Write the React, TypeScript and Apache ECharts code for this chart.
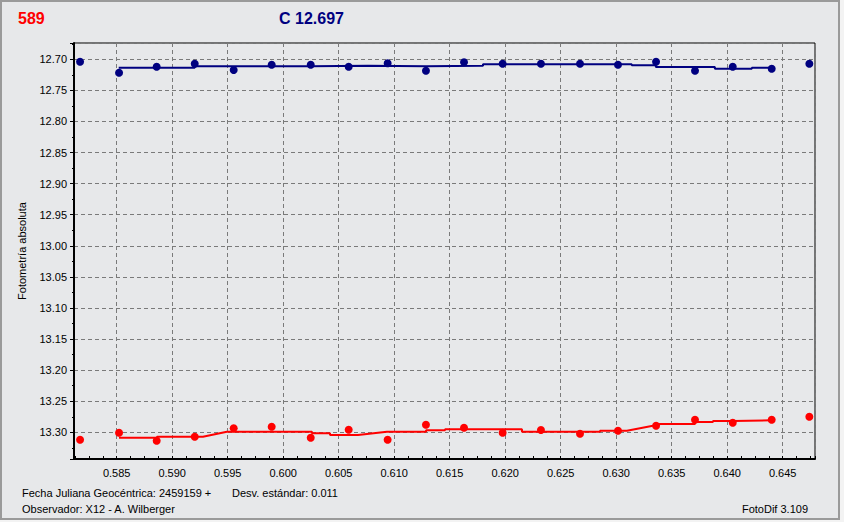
import React, { useEffect, useRef } from "react";
import * as echarts from "echarts";

// Julian date fraction (2459159 +) of each observation
const jd = [0.5817, 0.58521, 0.5886, 0.59203, 0.59554, 0.59896, 0.60248, 0.6059, 0.60941, 0.61286, 0.61629, 0.61977, 0.62322, 0.62674, 0.63016, 0.63359, 0.6371, 0.6405, 0.64401, 0.6474];
// comparison star C (blue)
const compMag = [12.7039, 12.7216, 12.7119, 12.7071, 12.7172, 12.7087, 12.7087, 12.7119, 12.7064, 12.7183, 12.7048, 12.7071, 12.7071, 12.7071, 12.7087, 12.7039, 12.7183, 12.7119, 12.7151, 12.7071];
// variable 589 (red)
const varMag = [13.3119, 13.3006, 13.3135, 13.3071, 13.2936, 13.291, 13.3087, 13.2958, 13.3119, 13.2878, 13.2926, 13.3006, 13.2963, 13.3023, 13.2974, 13.2894, 13.2797, 13.2846, 13.2797, 13.2749];

// smoothed curves
const compFitJd = [0.58518, 0.59203, 0.59203, 0.60248, 0.60248, 0.60764, 0.60764, 0.61287, 0.61287, 0.618, 0.618, 0.6314, 0.6314, 0.63357, 0.63357, 0.63889, 0.63889, 0.64222, 0.64222, 0.64401];
const compFitMag = [12.7135, 12.7135, 12.7113, 12.7113, 12.7103, 12.7103, 12.7113, 12.7113, 12.7103, 12.7103, 12.708, 12.708, 12.7097, 12.7097, 12.7124, 12.7124, 12.7151, 12.7151, 12.7135, 12.7135];
const varFitJd = [0.58521, 0.58863, 0.58863, 0.59277, 0.59493, 0.60259, 0.60259, 0.60422, 0.60422, 0.60674, 0.60935, 0.61287, 0.61287, 0.61458, 0.61458, 0.62151, 0.62151, 0.62854, 0.62854, 0.63097, 0.63331, 0.63394, 0.6371, 0.6371, 0.63872, 0.63872, 0.64052, 0.64052, 0.64403];
const varFitMag = [13.3087, 13.3087, 13.3071, 13.3071, 13.299, 13.299, 13.3016, 13.3016, 13.3043, 13.3043, 13.299, 13.299, 13.2968, 13.2968, 13.2952, 13.2952, 13.299, 13.299, 13.2974, 13.2974, 13.2894, 13.2866, 13.2866, 13.2834, 13.2834, 13.2818, 13.2818, 13.2807, 13.2807];

const xMin = 0.581153;
const xMax = 0.64791;
const yMin = 12.67378;
const yMax = 13.34295;

const titleVar = "589";
const titleComp = "C 12.697";
const yName = "Fotometría absoluta";
const footJd = "Fecha Juliana Geocéntrica: 2459159 +";
const footSd = "Desv. estándar: 0.011";
const footObs = "Observador: X12 - A. Wilberger";
const footSoft = "FotoDif 3.109";

const FONT = "'Liberation Sans', Arial, sans-serif";
const BLUE = "#000080";
const RED = "#ff0000";

const zip = (a: number[], b: number[]) => a.map((v, i) => [v, b[i]]);

export default function App() {
  const ref = useRef<HTMLDivElement>(null);
  useEffect(() => {
    const chart = echarts.init(ref.current!, null, { renderer: "svg" });
    const grid = { color: "#7a7a7a", width: 1, type: [4, 3] as any };
    chart.setOption({
      animation: false,
      backgroundColor: "#e7e8ea",
      grid: { left: 74, top: 43, right: 29, bottom: 63, show: true, borderColor: "#000", borderWidth: 1, backgroundColor: "transparent" },
      xAxis: {
        type: "value",
        min: xMin,
        max: xMax,
        splitNumber: 13,
        axisLine: { onZero: false, lineStyle: { color: "#000", width: 2 } },
        axisTick: { inside: true, length: 3, lineStyle: { color: "#000" } },
        minorTick: { show: true, splitNumber: 4, length: 3, lineStyle: { color: "#000" } },
        splitLine: { show: true, lineStyle: grid },
        axisLabel: {
          showMinLabel: false,
          showMaxLabel: false,
          margin: 8,
          color: "#000",
          fontSize: 11,
          fontFamily: FONT,
          formatter: (v: number) => v.toFixed(3),
        },
      },
      yAxis: {
        type: "value",
        inverse: true,
        min: yMin,
        max: yMax,
        splitNumber: 13,
        name: yName,
        nameLocation: "middle",
        nameGap: 47,
        nameTextStyle: { color: "#000", fontSize: 11, fontFamily: FONT },
        axisLine: { lineStyle: { color: "#000", width: 2 } },
        axisTick: { inside: false, length: 4, lineStyle: { color: "#000" } },
        minorTick: { show: true, splitNumber: 2, length: 2, lineStyle: { color: "#000" } },
        splitLine: { show: true, lineStyle: grid },
        axisLabel: {
          showMinLabel: false,
          showMaxLabel: false,
          margin: 7,
          color: "#000",
          fontSize: 11,
          fontFamily: FONT,
          formatter: (v: number) => v.toFixed(2),
        },
      },
      series: [
        { type: "line", data: zip(compFitJd, compFitMag), showSymbol: false, symbol: "none", lineStyle: { color: BLUE, width: 2 }, z: 2 },
        { type: "line", data: zip(varFitJd, varFitMag), showSymbol: false, symbol: "none", lineStyle: { color: RED, width: 2 }, z: 2 },
        { type: "scatter", data: zip(jd, compMag), symbol: "circle", symbolSize: 8, itemStyle: { color: BLUE, opacity: 1 }, z: 3 },
        { type: "scatter", data: zip(jd, varMag), symbol: "circle", symbolSize: 8, itemStyle: { color: RED, opacity: 1 }, z: 3 },
      ],
      graphic: [
        { type: "rect", z: -10, shape: { x: 840, y: 0, width: 4, height: 522 }, style: { fill: "#f3f3f3" } },
        { type: "rect", z: -10, shape: { x: 0, y: 519, width: 844, height: 3 }, style: { fill: "#f3f3f3" } },
        { type: "rect", z: 10, shape: { x: 1, y: 1, width: 838, height: 518 }, style: { fill: "none", stroke: "#9a9a9a", lineWidth: 2 } },
        { type: "text", left: 18, top: 10, style: { text: titleVar, fill: RED, font: `bold 16px ${FONT}` } },
        { type: "text", left: 279, top: 10, style: { text: titleComp, fill: BLUE, font: `bold 16px ${FONT}` } },
        { type: "text", left: 22, top: 487, style: { text: footJd, fill: "#000", font: `11px ${FONT}` } },
        { type: "text", left: 232, top: 487, style: { text: footSd, fill: "#000", font: `11px ${FONT}` } },
        { type: "text", left: 22, top: 503, style: { text: footObs, fill: "#000", font: `11px ${FONT}` } },
        { type: "text", right: 36, top: 503, style: { text: footSoft, fill: "#000", font: `11px ${FONT}` } },
      ],
    });
    return () => chart.dispose();
  }, []);
  return <div ref={ref} style={{ position: "fixed", left: 0, top: 0, width: 844, height: 522 }} />;
}
